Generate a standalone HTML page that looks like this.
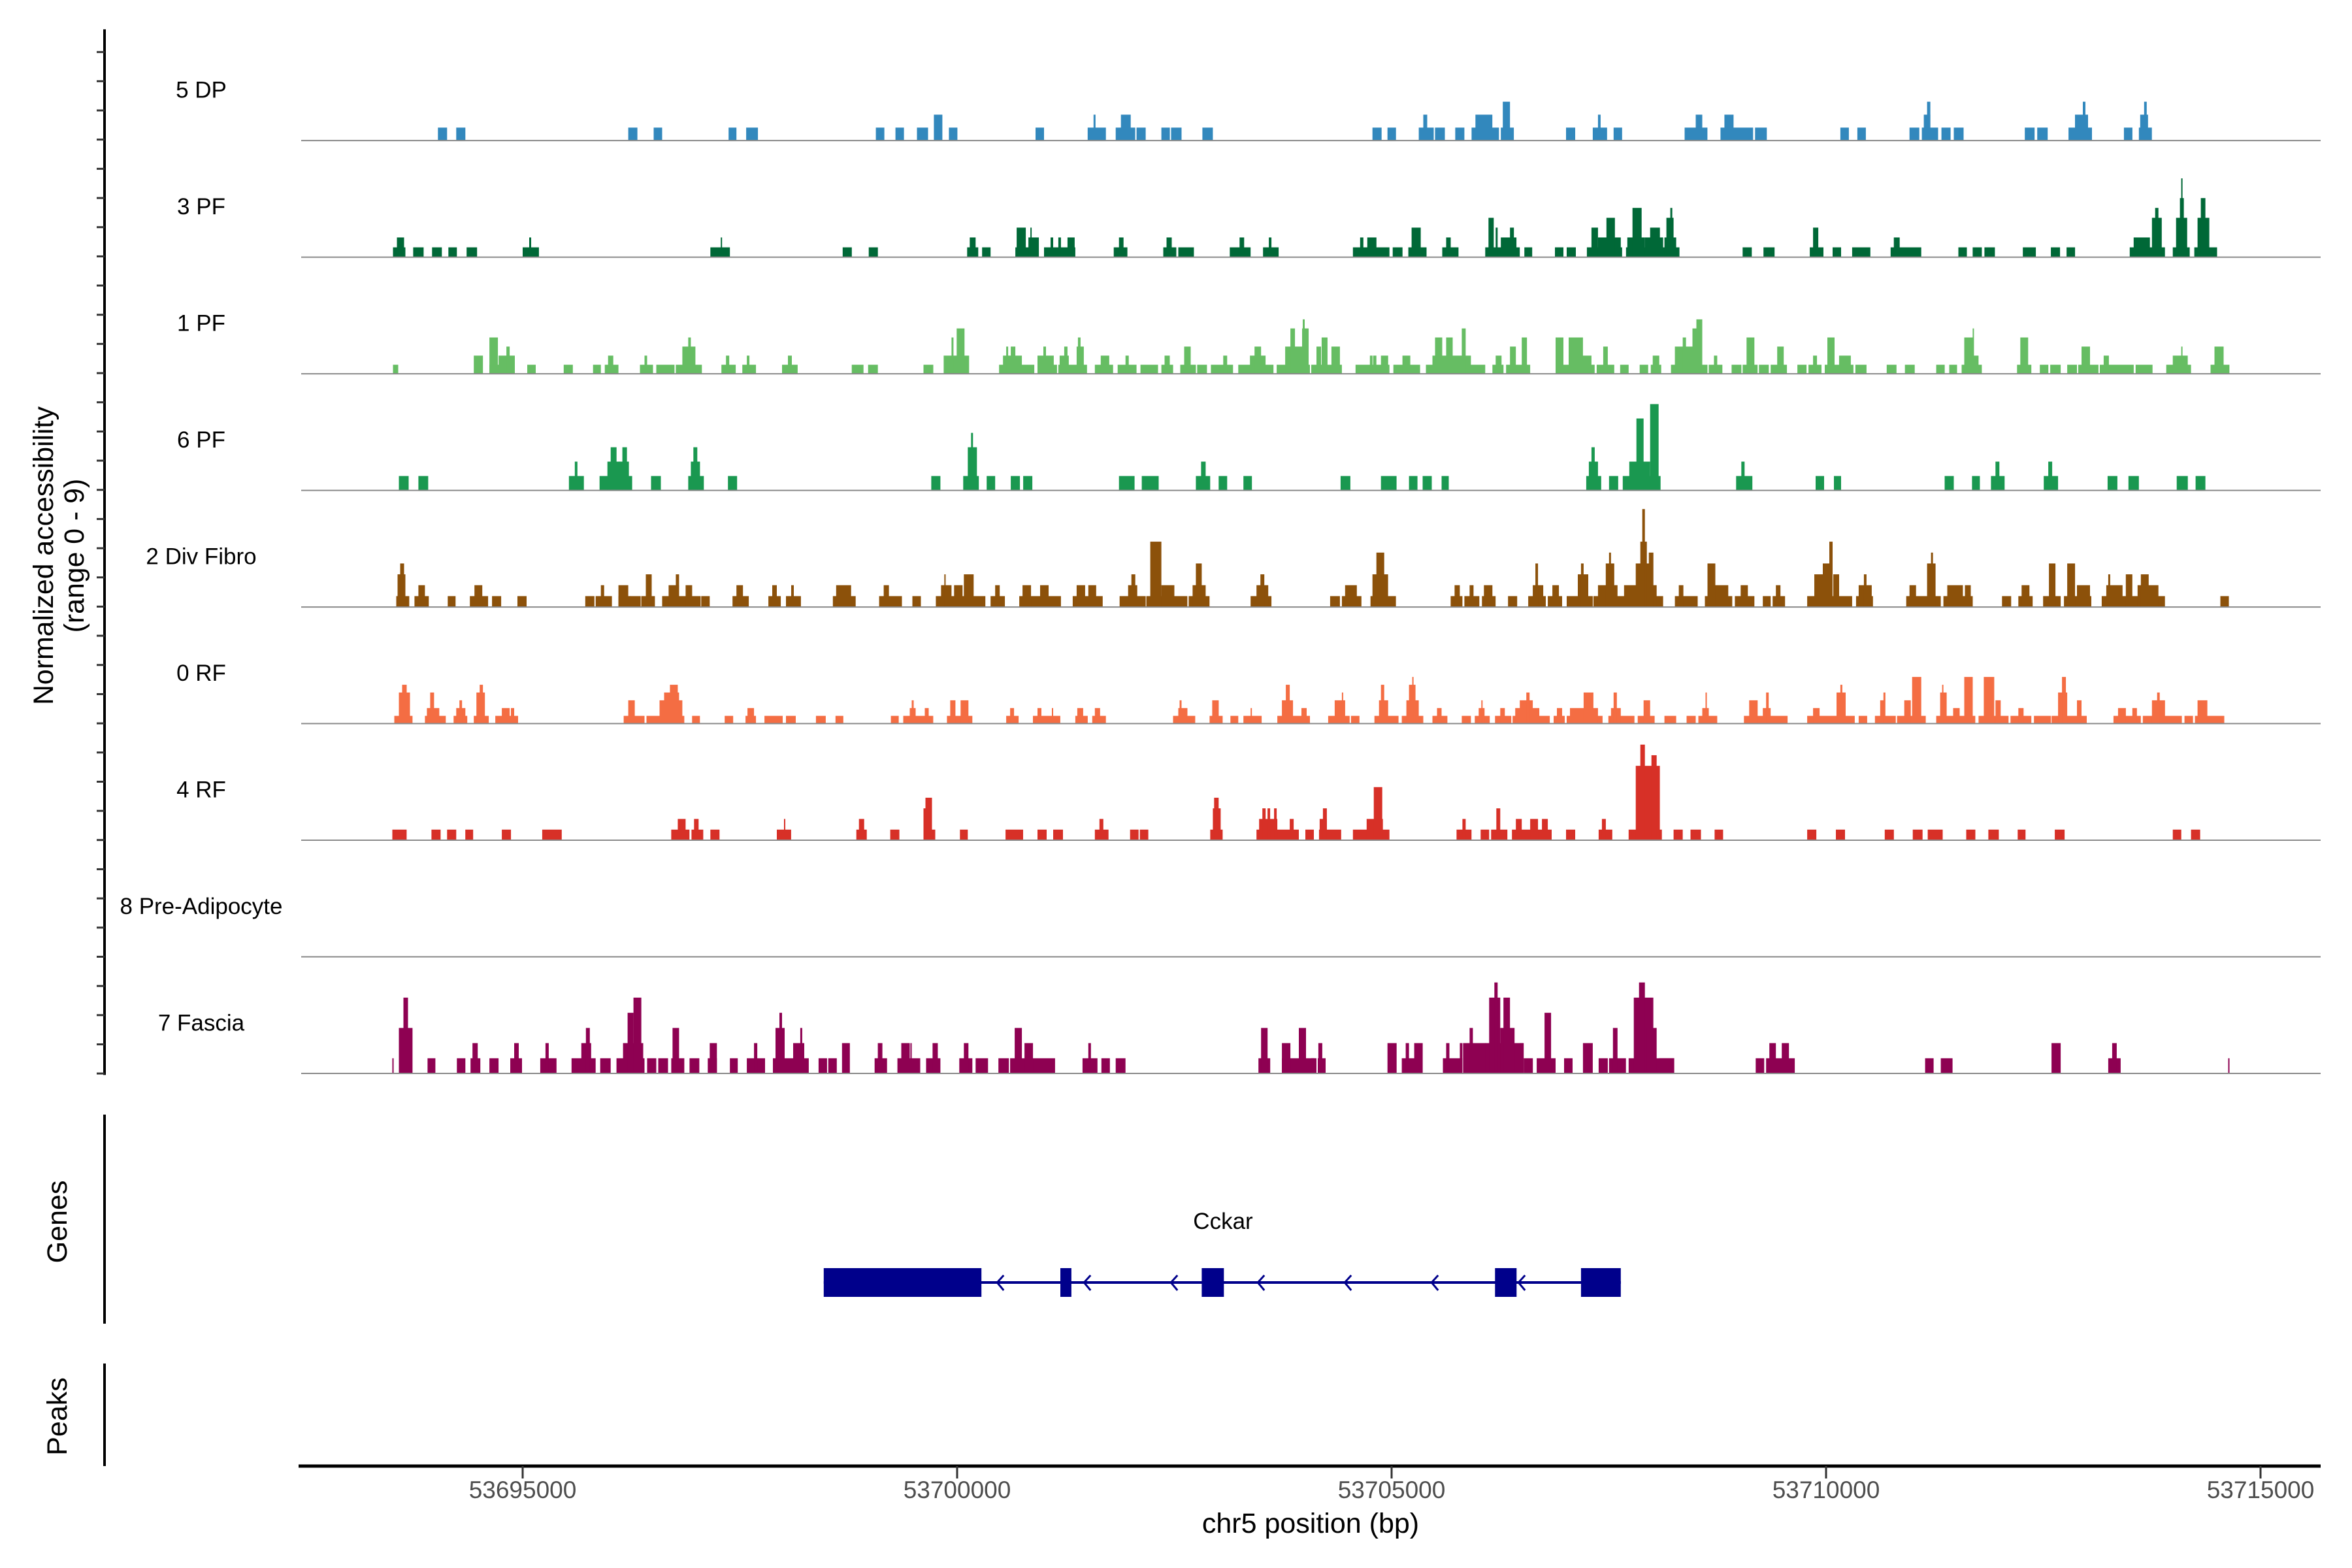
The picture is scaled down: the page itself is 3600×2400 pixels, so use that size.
<!DOCTYPE html>
<html>
<head>
<meta charset="utf-8">
<style>
  html, body { margin: 0; padding: 0; background: #ffffff; }
  svg { display: block; }
  text { font-family: "Liberation Sans", Arial, sans-serif; }
</style>
</head>
<body>
<svg id="chart" xmlns="http://www.w3.org/2000/svg" width="3600" height="2400" viewBox="0 0 3600 2400">
  <rect x="0" y="0" width="3600" height="2400" fill="#ffffff"></rect>
  <g transform="matrix(1,0,0,0.996,0,0)">
    <g id="tracks"></g>
    <g id="laxis"></g>
  </g>
  <g id="genes"></g>
  <g id="axes"></g>
</svg>
<script>
// ---------- data ----------
const REGION_START = 53692375;   // genomic bp of coverage bin 0
const BIN_SIZE = 7.5;            // bp per coverage bin
const xTicks = [53695000, 53700000, 53705000, 53710000, 53715000];
const xTickLabels = ["53695000", "53700000", "53705000", "53710000", "53715000"];
const groupNames = ["5 DP", "3 PF", "1 PF", "6 PF", "2 Div Fibro", "0 RF", "4 RF", "8 Pre-Adipocyte", "7 Fascia"];
const groupColors = ["#3288bd", "#006837", "#66bd63", "#1a9850", "#8c510a", "#f46d43", "#d73027", "#cccccc", "#8e0152"];
const groupScale = [1.0, 0.76, 0.70, 1.11, 0.84, 0.60, 0.82, 1.0, 1.17];
const yRangeMax = 9;

// coverage segments: [startBin, endBin, count]
const cov5DP = [[220,234,1],[248,262,1],[512,526,1],[551,564,1],[666,678,1],[693,711,1],[892,905,1],[922,935,1],[955,972,1],[981,994,2],[1004,1017,1],[1137,1150,1],[1217,1245,1],[1226,1229,2],[1260,1290,1],[1268,1283,2],[1292,1306,1],[1330,1343,1],[1345,1361,1],[1393,1409,1],
[1654,1668,1],[1677,1690,1],[1725,1748,1],[1732,1738,2],[1750,1765,1],[1781,1795,1],[1806,1848,1],[1812,1838,2],[1851,1871,1],[1854,1865,3],[1951,1965,1],[1992,2014,1],[2000,2004,2],[2024,2037,1],[2133,2168,1],[2150,2160,2],[2188,2238,1],[2194,2208,2],[2241,2259,1],[2372,2385,1],[2398,2411,1],[2478,2493,1],[2497,2522,1],[2500,2510,2],[2505,2510,3],[2527,2541,1],[2546,2561,1],[2655,2670,1],[2674,2690,1],[2722,2758,1],[2732,2752,2],[2744,2748,3],[2807,2820,1],[2830,2850,1],[2832,2844,2],[2838,2842,3]];

const cov3PF = [[151,170,1],[157,168,2],[182,198,1],[211,226,1],[236,249,1],[264,280,1],[350,375,1],[360,363,2],[638,668,1],[654,656,2],[841,855,1],[881,895,1],[1032,1049,1],[1036,1045,2],[1055,1068,1],[1106,1142,1],[1108,1122,3],[1126,1142,2],[1129,1131,3],[1150,1198,1],[1160,1164,2],[1172,1176,2],[1186,1197,2],[1257,1278,1],[1265,1272,2],[1333,1353,1],[1338,1346,2],[1356,1380,1],[1435,1467,1],[1450,1457,2],[1486,1510,1],[1495,1499,2],
[1624,1680,1],[1635,1640,2],[1646,1660,2],[1685,1700,1],[1709,1737,1],[1714,1728,3],[1761,1786,1],[1767,1774,2],[1827,1880,1],[1832,1840,4],[1851,1875,2],[1843,1846,3],[1865,1871,3],[1887,1899,1],[1934,1947,1],[1952,1966,1],[1983,2037,1],[1990,2000,3],[2000,2035,2],[2013,2026,4],[2043,2125,1],[2045,2072,2],[2053,2067,5],[2072,2100,2],[2080,2095,3],[2102,2120,2],[2105,2116,4],[2111,2114,5],[2222,2236,1],[2254,2271,1],[2325,2346,1],[2330,2338,3],[2360,2373,1],[2390,2418,1],[2449,2496,1],[2454,2463,2],[2553,2566,1],[2575,2589,1],[2593,2609,1],[2652,2672,1],[2695,2709,1],[2719,2732,1],[2816,2870,1],[2822,2847,2],[2850,2865,4],[2855,2860,5],[2882,2908,1],[2887,2904,4],[2893,2899,6],[2895,2897,8],[2915,2950,1],[2920,2938,4],[2925,2932,6]];

const cov1PF = [[151,159,1],[275,289,2],[299,338,1],[299,312,4],[313,330,2],[325,330,3],[330,338,2],[357,370,1],[413,427,1],[458,470,1],[476,497,1],[481,489,2],[530,550,1],[537,541,2],[555,583,1],[585,625,1],[595,615,3],[604,608,4],[655,677,1],[662,667,2],[687,708,1],[694,698,2],[748,772,1],[757,763,2],[855,873,1],[880,895,1],[965,980,1],[996,1035,2],[1008,1011,4],[1016,1028,5],[1081,1135,1],[1087,1116,2],[1092,1095,3],[1099,1106,3],[1140,1170,1],[1140,1165,2],[1149,1153,3],[1172,1216,1],[1174,1188,2],[1181,1186,3],[1200,1211,3],[1202,1206,4],[1228,1256,1],[1237,1250,2],[1263,1292,1],[1275,1280,2],[1298,1325,1],[1330,1348,1],[1335,1343,2],[1359,1383,1],[1365,1375,3],[1385,1400,1],[1406,1440,1],[1425,1431,2],[1448,1502,1],[1466,1490,2],[1473,1483,3],[1507,1558,1],[1520,1556,3],[1528,1535,5],[1546,1556,5],[1547,1550,6],
[1560,1607,1],[1568,1575,3],[1576,1585,4],[1591,1604,3],[1628,1680,1],[1650,1654,2],[1655,1660,2],[1667,1678,2],[1686,1727,1],[1700,1712,2],[1736,1827,1],[1746,1805,2],[1750,1761,4],[1767,1777,4],[1791,1797,5],[1838,1855,1],[1843,1852,2],[1859,1896,1],[1865,1874,3],[1883,1891,4],[1935,1995,1],[1935,1947,4],[1955,1977,4],[1974,1990,2],[1998,2025,1],[2008,2015,3],[2034,2047,1],[2064,2077,1],[2081,2097,1],[2084,2094,2],[2112,2168,1],[2118,2160,3],[2130,2135,4],[2145,2158,5],[2151,2160,6],[2170,2191,1],[2178,2183,2],[2205,2220,1],[2222,2245,1],[2228,2240,4],[2247,2262,1],[2265,2290,1],[2275,2285,3],[2306,2320,1],[2323,2343,1],[2330,2336,2],[2348,2392,1],[2352,2363,4],[2370,2388,2],[2395,2412,1],[2443,2458,1],[2471,2486,1],[2519,2532,1],[2539,2551,1],[2558,2589,1],[2562,2576,4],[2575,2577,5],[2576,2584,2],[2643,2665,1],[2648,2660,4],[2678,2691,1],[2694,2710,1],[2720,2735,1],[2737,2768,1],[2742,2755,3],[2770,2822,1],[2776,2784,2],[2825,2851,1],[2872,2910,1],[2882,2905,2],[2895,2897,3],[2940,2969,1],[2946,2960,3]];

const cov6PF = [[160,175,1],[190,205,1],[421,444,1],[430,434,2],[468,518,1],[480,500,2],[485,494,3],[498,513,2],[503,510,3],[547,562,1],[604,628,1],[608,622,2],[612,618,3],[665,679,1],[977,991,1],[1026,1050,1],[1033,1047,3],[1038,1041,4],[1062,1075,1],[1099,1113,1],[1118,1132,1],[1265,1289,1],[1300,1326,1],[1383,1405,1],[1391,1398,2],[1418,1431,1],[1456,1469,1],
[1605,1620,1],[1667,1691,1],[1710,1723,1],[1731,1745,1],[1760,1771,1],[1982,2005,1],[1986,2000,2],[1990,1995,3],[2017,2031,1],[2038,2096,1],[2048,2080,2],[2059,2070,5],[2080,2093,6],[2212,2237,1],[2220,2225,2],[2334,2347,1],[2362,2373,1],[2532,2546,1],[2574,2586,1],[2603,2624,1],[2610,2616,2],[2684,2706,1],[2691,2697,2],[2782,2797,1],[2814,2830,1],[2888,2905,1],[2917,2932,1]];

const cov2DivFibro = [[156,176,1],[158,170,3],[162,168,4],[184,206,1],[190,200,2],[235,247,1],[269,297,1],[276,288,2],[303,317,1],[342,356,1],[446,460,1],[462,487,1],[470,475,2],[497,516,1],[497,512,2],[514,531,1],[532,553,1],[539,548,3],[564,623,1],[574,590,2],[585,590,3],[600,610,2],[624,637,1],[672,697,1],[678,688,2],[727,746,1],[733,740,2],[754,777,1],[762,766,2],[826,861,1],[831,854,2],[897,932,1],[904,912,2],[948,961,1],[984,1060,1],[992,1008,2],[997,999,3],[1012,1025,2],[1027,1042,3],[1068,1090,1],[1075,1082,2],[1112,1176,1],[1117,1130,2],[1144,1157,2],[1194,1240,1],[1200,1213,2],[1218,1230,2],[1266,1306,1],[1279,1293,2],[1284,1290,3],[1307,1370,1],[1313,1330,6],[1330,1350,2],[1372,1404,1],[1378,1398,2],[1383,1392,4],[1467,1499,1],[1476,1494,2],[1482,1488,3],
[1589,1604,1],[1607,1637,1],[1612,1630,2],[1651,1690,1],[1654,1678,3],[1660,1672,5],[1774,1792,1],[1780,1788,2],[1795,1818,1],[1803,1809,2],[1822,1843,1],[1825,1838,2],[1862,1876,1],[1893,1920,1],[1900,1916,2],[1904,1908,4],[1923,1945,1],[1930,1940,2],[1952,1992,1],[1969,1985,3],[1974,1978,4],[1993,2100,1],[2000,2030,2],[2012,2025,4],[2017,2020,5],[2040,2090,2],[2058,2080,4],[2065,2075,6],[2068,2072,9],[2078,2085,5],[2118,2137,1],[2124,2131,2],[2137,2153,1],[2164,2206,1],[2168,2180,4],[2180,2200,2],[2210,2240,1],[2219,2230,2],[2253,2265,1],[2268,2287,1],[2273,2280,2],[2321,2390,1],[2332,2350,3],[2345,2360,4],[2355,2360,6],[2361,2370,3],[2396,2422,1],[2400,2420,2],[2408,2412,3],[2473,2526,1],[2478,2488,2],[2505,2518,4],[2511,2514,5],[2530,2575,1],[2536,2560,2],[2563,2572,2],[2620,2634,1],[2645,2667,1],[2650,2662,2],[2683,2710,1],[2692,2702,4],[2715,2757,1],[2720,2732,4],[2735,2755,2],[2773,2870,1],[2780,2805,2],[2783,2786,3],[2810,2820,3],[2828,2860,2],[2833,2845,3],[2955,2968,1]];

const cov0RF = [[153,181,1],[160,177,4],[165,172,5],[200,232,1],[203,222,2],[208,214,4],[244,265,1],[248,262,2],[253,257,3],[275,298,1],[279,292,4],[284,289,5],[308,343,1],[318,330,2],[332,337,2],[505,537,1],[512,522,3],[540,598,1],[560,595,3],[567,590,4],[576,588,5],[610,622,1],[660,673,1],[692,708,1],[695,705,2],[721,749,1],[754,769,1],[800,815,1],[830,842,1],[915,927,1],[934,980,1],[944,953,2],[947,950,3],[967,973,2],[1001,1040,1],[1006,1014,3],[1022,1034,3],[1092,1111,1],[1098,1104,2],[1133,1175,1],[1140,1146,2],[1162,1164,2],[1198,1217,1],[1201,1210,2],[1224,1245,1],[1228,1236,2],[1348,1382,1],[1356,1370,2],[1358,1361,3],[1404,1424,1],[1408,1418,3],[1436,1448,1],[1456,1484,1],[1467,1469,2],[1508,1558,1],[1515,1532,3],[1521,1527,5],[1545,1553,2],
[1586,1619,1],[1596,1612,3],[1607,1609,4],[1621,1634,1],[1657,1694,1],[1664,1678,3],[1667,1672,5],[1699,1732,1],[1706,1725,3],[1710,1720,5],[1715,1717,6],[1746,1769,1],[1753,1760,2],[1791,1805,1],[1811,1834,1],[1817,1826,2],[1821,1823,3],[1842,1867,1],[1850,1857,2],[1869,1926,1],[1873,1910,2],[1880,1900,3],[1890,1895,4],[1932,1949,1],[1937,1945,2],[1952,2007,1],[1957,2000,2],[1978,1993,4],[2016,2056,1],[2020,2035,2],[2024,2029,4],[2061,2087,1],[2070,2080,3],[2102,2120,1],[2136,2150,1],[2154,2183,1],[2160,2170,2],[2165,2167,4],[2224,2291,1],[2232,2245,3],[2253,2265,2],[2258,2262,4],[2321,2394,1],[2330,2340,2],[2366,2380,4],[2372,2375,5],[2400,2413,1],[2425,2457,1],[2433,2440,3],[2438,2441,4],[2459,2503,1],[2470,2480,3],[2482,2496,6],[2519,2579,1],[2525,2535,4],[2528,2530,5],[2545,2555,2],[2562,2575,6],[2584,2630,1],[2592,2608,6],[2610,2618,3],[2633,2665,1],[2645,2653,2],[2669,2695,1],[2696,2750,1],[2706,2720,4],[2712,2718,6],[2735,2742,3],[2791,2833,1],[2798,2810,2],[2820,2827,2],[2836,2896,1],[2850,2870,3],[2858,2862,4],[2900,2913,1],[2916,2961,1],[2920,2935,3]];

const cov4RF = [[150,172,1],[210,224,1],[234,248,1],[262,274,1],[318,332,1],[380,410,1],[578,606,1],[588,600,2],[609,627,1],[613,620,2],[638,652,1],[740,762,1],[751,753,2],[862,878,1],[866,874,2],[914,928,1],[965,983,1],[965,970,3],[968,978,4],[1021,1033,1],[1091,1118,1],[1140,1154,1],[1164,1179,1],[1228,1249,1],[1235,1241,2],[1282,1295,1],[1297,1310,1],[1405,1424,1],[1409,1421,3],[1411,1418,4],[1476,1541,1],[1480,1508,2],[1485,1490,3],[1493,1497,3],[1503,1507,3],[1527,1533,2],[1551,1564,1],
[1572,1606,1],[1573,1584,2],[1578,1584,3],[1624,1680,1],[1645,1670,2],[1656,1669,5],[1783,1806,1],[1792,1797,2],[1820,1833,1],[1836,1861,1],[1844,1850,3],[1868,1929,1],[1874,1883,2],[1896,1908,2],[1914,1923,2],[1951,1965,1],[2001,2022,1],[2006,2012,2],[2047,2098,1],[2058,2095,7],[2065,2072,9],[2082,2090,8],[2116,2130,1],[2142,2158,1],[2179,2192,1],[2321,2335,1],[2365,2379,1],[2440,2454,1],[2483,2498,1],[2506,2529,1],[2565,2579,1],[2599,2615,1],[2644,2656,1],[2701,2716,1],[2882,2895,1],[2910,2924,1]];

const cov8PreAdipocyte = [];

const cov7Fascia = [[150,152,1],[160,181,3],[167,174,5],[204,216,1],[249,262,1],[270,285,1],[273,281,2],[299,313,1],[331,349,1],[337,344,2],[377,402,1],[385,390,2],[425,462,1],[440,455,2],[447,453,3],[469,485,1],[494,537,1],[504,535,2],[511,520,4],[520,532,5],[541,555,1],[558,573,1],[578,598,1],[580,590,3],[606,621,1],[634,648,1],[637,648,2],[668,680,1],[694,722,1],[705,710,2],[734,789,1],[738,752,3],[744,748,4],[765,782,2],[776,779,3],[804,817,1],[819,832,1],[840,852,2],[890,909,1],[895,902,2],[925,960,1],[931,944,2],[945,947,2],[969,991,1],[979,987,2],[1020,1040,1],[1027,1034,2],[1045,1064,1],[1080,1096,1],[1098,1167,1],[1105,1116,3],[1120,1133,2],[1209,1232,1],[1218,1222,2],[1238,1251,1],[1260,1275,1],[1479,1497,1],[1483,1493,3],[1515,1568,1],[1515,1528,2],[1541,1552,3],
[1560,1565,1],[1570,1582,1],[1571,1577,2],[1677,1691,2],[1699,1731,1],[1705,1710,2],[1718,1731,2],[1762,1792,1],[1767,1772,2],[1788,1792,2],[1793,1828,2],[1803,1808,3],[1827,1886,2],[1833,1850,5],[1841,1846,6],[1850,1872,3],[1855,1865,5],[1880,1885,2],[1886,1900,1],[1906,1935,1],[1918,1928,4],[1948,1961,1],[1977,1992,2],[2001,2015,1],[2017,2043,1],[2023,2030,3],[2047,2117,1],[2055,2085,5],[2063,2072,6],[2075,2090,3],[2094,2117,1],[2242,2255,1],[2258,2302,1],[2263,2273,2],[2282,2293,2],[2502,2515,1],[2526,2544,1],[2696,2710,2],[2783,2802,1],[2789,2796,2],[2967,2969,1]];

const coverageByGroup = [cov5DP, cov3PF, cov1PF, cov6PF, cov2DivFibro, cov0RF, cov4RF, cov8PreAdipocyte, cov7Fascia];

// gene model (genomic bp)
const geneName = "Cckar";
const geneStart = 53698465;
const geneEnd = 53707638;
const exonStarts = [53698465, 53701188, 53702815, 53706190, 53707180];
const exonEnds   = [53700280, 53701315, 53703070, 53706438, 53707638];
const strandArrowStart = 53700498;
const strandArrowStep = 1000;

// ---------- layout & scales ----------
const NS = "http://www.w3.org/2000/svg";
const PLOT_LEFT = 461, PLOT_RIGHT = 3552;
const BASE0 = 216, TRACK_STEP = 179.2, TRACK_H = 179.2;
function xScale(bp) { return 800 + (bp - 53695000) * 0.133; }
function binToBp(b) { return REGION_START + b * BIN_SIZE; }
function trackBaseline(i) { return BASE0 + i * TRACK_STEP; }
function yScale(v, i) { return trackBaseline(i) - (v / yRangeMax) * TRACK_H; }

function mk(tag, attrs, parent) {
  const el = document.createElementNS(NS, tag);
  for (const k in attrs) el.setAttribute(k, attrs[k]);
  parent.appendChild(el);
  return el;
}

const gTracks = document.getElementById("tracks");
const gLAxis = document.getElementById("laxis");
const gGenes = document.getElementById("genes");
const gAxes = document.getElementById("axes");

// tracks
groupNames.forEach((name, i) => {
  const g = mk("g", {}, gTracks);
  
  
  const base = trackBaseline(i);
  coverageByGroup[i].forEach(seg => {
    const x0 = xScale(binToBp(seg[0]));
    const x1 = xScale(binToBp(seg[1]));
    const yTop = yScale(seg[2] * groupScale[i], i);
    const r = mk("rect", { x: x0.toFixed(1), y: yTop.toFixed(1), width: Math.max(1, x1 - x0).toFixed(1), height: (base - yTop).toFixed(1), fill: groupColors[i] }, g);
    
    
  });
  const bl = mk("line", { x1: PLOT_LEFT, x2: PLOT_RIGHT, y1: base, y2: base, stroke: "#8a8a8a", "stroke-width": 2 }, g);
  
  
  const lab = mk("text", { x: 308, y: base - 66, "font-size": 35, "text-anchor": "middle", fill: "#000" }, g);
  lab.textContent = name;
  
  
});

// left axis for coverage
const axL = mk("line", { x1: 160, x2: 160, y1: 45, y2: 1652, stroke: "#000", "stroke-width": 4 }, gLAxis);


for (let y = 80; y <= 1650; y += 44.85) {
  const t = mk("line", { x1: 148, x2: 160, y1: y.toFixed(1), y2: y.toFixed(1), stroke: "#333", "stroke-width": 3 }, gLAxis);
  
  
}
const yt = mk("text", { transform: "translate(67,854) rotate(-90)", "font-size": 43, "text-anchor": "middle", "dominant-baseline": "central", fill: "#000" }, gLAxis);
yt.textContent = "Normalized accessibility";


const yt2 = mk("text", { transform: "translate(114,854) rotate(-90)", "font-size": 43, "text-anchor": "middle", "dominant-baseline": "central", fill: "#000" }, gLAxis);
yt2.textContent = "(range 0 - 9)";



// genes panel
const gAx = mk("line", { x1: 160, x2: 160, y1: 1706, y2: 2026, stroke: "#000", "stroke-width": 4 }, gGenes);


const gl = mk("text", { transform: "translate(88,1870) rotate(-90)", "font-size": 43, "text-anchor": "middle", "dominant-baseline": "central", fill: "#000" }, gGenes);
gl.textContent = "Genes";


const intron = mk("line", { x1: xScale(geneStart), x2: xScale(geneEnd), y1: 1963, y2: 1963, stroke: "#00008b", "stroke-width": 4 }, gGenes);


for (let bp = strandArrowStart; bp < geneEnd; bp += strandArrowStep) {
  const ax = xScale(bp);
  const p = mk("polyline", { points: `${ax+5},1952 ${ax-5},1963 ${ax+5},1975`, fill: "none", stroke: "#00008b", "stroke-width": 3 }, gGenes);
  
  
}
exonStarts.forEach((s, k) => {
  const x0 = xScale(s), x1 = xScale(exonEnds[k]);
  const r = mk("rect", { x: x0.toFixed(1), y: 1941, width: (x1 - x0).toFixed(1), height: 44, fill: "#00008b" }, gGenes);
  
  
});
const gn = mk("text", { x: 1872, y: 1881, "font-size": 35, "text-anchor": "middle", fill: "#000" }, gGenes);
gn.textContent = geneName;



// peaks panel
const pAx = mk("line", { x1: 160, x2: 160, y1: 2087, y2: 2244, stroke: "#000", "stroke-width": 4 }, gGenes);


const pl = mk("text", { transform: "translate(88,2168) rotate(-90)", "font-size": 43, "text-anchor": "middle", "dominant-baseline": "central", fill: "#000" }, gGenes);
pl.textContent = "Peaks";



// x axis
const xa = mk("line", { x1: 457, x2: PLOT_RIGHT, y1: 2244, y2: 2244, stroke: "#000", "stroke-width": 5 }, gAxes);


xTicks.forEach((bp, k) => {
  const x = xScale(bp);
  const t = mk("line", { x1: x, x2: x, y1: 2244, y2: 2263, stroke: "#333", "stroke-width": 3 }, gAxes);
  
  
  const l = mk("text", { x: x, y: 2293, "font-size": 37, "text-anchor": "middle", fill: "#4d4d4d" }, gAxes);
  l.textContent = xTickLabels[k];
  
  
});
const xt = mk("text", { x: 2006, y: 2346, "font-size": 43, "text-anchor": "middle", fill: "#000" }, gAxes);
xt.textContent = "chr5 position (bp)";


</script>
</body>
</html>
